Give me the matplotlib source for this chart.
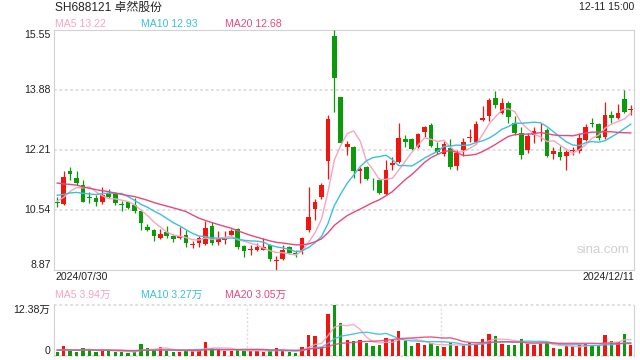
import numpy as np
import pandas as pd
import matplotlib
matplotlib.use('Agg')
import matplotlib.pyplot as plt

plt.rcParams['font.family'] = ['Liberation Sans', 'Noto Sans CJK SC', 'DejaVu Sans']

title = 'SH688121 卓然股份'
stamp = '12-11 15:00'
start_label, end_label = '2024/07/30', '2024/12/11'
price_ticks = [15.55, 13.88, 12.21, 10.54, 8.87]
ma_labels = ['MA5 13.22', 'MA10 12.93', 'MA20 12.68']
vol_ma_labels = ['MA5 3.94万', 'MA10 3.27万', 'MA20 3.05万']
vol_max = 12.38

# daily candles, 2024-07-30 .. 2024-12-11 (90 trading days)
opens = [10.72, 10.68, 11.62, 11.42, 11.23, 10.88, 10.85, 10.76, 11.00, 10.98,
         10.68, 10.74, 10.66, 10.50, 10.06, 9.98, 9.76, 9.92, 9.79, 9.75,
         9.84, 9.55, 9.60, 9.57, 10.08, 9.64, 9.69, 9.83, 9.99, 9.53,
         9.40, 9.40, 9.42, 9.55, 9.12, 9.16, 9.49, 9.33, 9.42, 9.97,
         10.56, 10.88, 11.90, 15.37, 13.67, 12.29, 12.27, 11.62, 11.71, 11.23,
         11.37, 10.98, 11.78, 11.85, 12.51, 12.50, 12.27, 12.71, 12.90, 12.25,
         12.09, 12.25, 11.74, 12.20, 12.54, 12.41, 13.04, 13.13, 13.64, 13.22,
         13.50, 12.96, 12.67, 12.20, 12.62, 12.74, 12.76, 12.09, 12.15, 12.02,
         12.18, 12.16, 12.48, 12.94, 12.92, 12.57, 13.18, 13.10, 13.62, 13.30]
highs = [10.90, 11.60, 11.71, 11.61, 11.37, 11.03, 10.95, 11.18, 11.11, 11.04,
         10.79, 10.79, 10.86, 10.53, 10.13, 10.01, 10.00, 10.07, 9.86, 10.04,
         9.98, 9.67, 9.81, 10.22, 10.18, 9.94, 9.93, 9.99, 10.02, 9.55,
         9.55, 9.60, 9.74, 9.57, 9.25, 9.55, 9.53, 9.42, 9.77, 11.16,
         10.83, 11.29, 13.17, 15.55, 13.67, 12.45, 12.31, 11.72, 11.74, 11.43,
         11.43, 11.92, 12.00, 12.94, 12.62, 12.53, 12.68, 12.87, 12.96, 12.43,
         12.46, 12.50, 12.20, 12.53, 12.78, 12.99, 13.41, 13.64, 13.83, 13.64,
         13.55, 13.15, 12.85, 12.67, 12.85, 12.96, 12.80, 12.29, 12.31, 12.20,
         12.29, 12.68, 12.92, 13.08, 12.96, 13.52, 13.27, 13.48, 13.87, 13.45]
lows = [10.61, 10.66, 11.37, 11.23, 10.74, 10.72, 10.65, 10.70, 10.86, 10.67,
        10.50, 10.55, 10.44, 9.98, 9.93, 9.65, 9.72, 9.74, 9.63, 9.73,
        9.51, 9.46, 9.49, 9.55, 9.55, 9.55, 9.58, 9.81, 9.43, 9.23,
        9.28, 9.38, 9.40, 9.12, 8.87, 9.14, 9.30, 9.23, 9.30, 9.91,
        10.25, 10.83, 11.38, 13.24, 12.38, 12.06, 11.41, 11.29, 11.37, 11.09,
        10.98, 10.95, 11.64, 11.83, 12.29, 12.20, 12.25, 12.57, 12.29, 12.09,
        12.03, 11.66, 11.64, 12.03, 12.43, 12.37, 12.99, 12.99, 13.36, 13.19,
        12.94, 12.62, 11.94, 12.11, 12.39, 12.45, 11.99, 11.94, 11.92, 11.63,
        12.06, 12.11, 12.46, 12.85, 12.48, 12.50, 12.94, 13.06, 13.22, 13.18]
closes = [10.71, 11.44, 11.52, 11.28, 10.76, 10.85, 10.76, 10.95, 10.90, 10.72,
          10.67, 10.57, 10.49, 10.16, 9.96, 9.79, 9.86, 9.79, 9.73, 9.81,
          9.60, 9.57, 9.74, 10.02, 9.60, 9.72, 9.73, 9.94, 9.51, 9.39,
          9.44, 9.49, 9.49, 9.16, 9.14, 9.41, 9.34, 9.31, 9.74, 10.32,
          10.74, 11.23, 13.06, 14.21, 12.40, 12.36, 11.60, 11.67, 11.39, 11.21,
          10.99, 11.63, 11.83, 12.53, 12.43, 12.22, 12.65, 12.85, 12.32, 12.13,
          12.37, 11.72, 12.11, 12.43, 12.57, 12.93, 13.08, 13.59, 13.44, 13.50,
          13.11, 12.67, 12.06, 12.59, 12.73, 12.76, 12.02, 12.18, 11.99, 12.13,
          12.21, 12.53, 12.85, 12.92, 12.53, 13.18, 13.10, 13.22, 13.26, 13.34]
# volume in 万手
volumes = [0.99, 2.39, 1.32, 0.99, 1.90, 1.49, 0.99, 1.40, 1.24, 0.99,
           0.99, 0.74, 0.99, 2.89, 1.90, 1.49, 2.06, 1.24, 0.99, 0.99,
           1.24, 1.40, 1.49, 3.38, 1.90, 1.57, 1.24, 1.24, 1.40, 1.24,
           1.24, 1.24, 0.99, 1.24, 1.90, 1.24, 0.99, 0.74, 2.15, 5.12,
           4.87, 2.06, 10.07, 12.38, 7.92, 3.96, 3.63, 3.96, 3.14, 2.39,
           2.64, 4.37, 3.96, 6.11, 3.71, 2.39, 3.14, 2.64, 3.14, 2.39,
           2.15, 3.22, 2.39, 2.64, 3.22, 2.89, 4.13, 5.36, 4.87, 2.89,
           2.64, 2.64, 4.13, 2.89, 2.64, 3.22, 3.22, 1.90, 1.65, 2.39,
           2.39, 2.64, 2.89, 2.39, 2.39, 4.95, 3.55, 3.35, 5.25, 2.60]
# closes / volumes of the 19 sessions before the window (for the moving averages)
prev_close = [11.90, 11.80, 11.70, 11.75, 11.60, 11.50, 11.55, 11.45, 11.50, 11.40,
              11.20, 11.10, 11.15, 11.00, 11.05, 10.90, 10.70, 10.75, 10.80]
prev_vol = [1.8, 1.6, 1.4, 1.5, 1.3, 1.7, 1.4, 1.2, 1.6, 1.5,
            1.3, 1.4, 1.6, 1.2, 1.5, 1.3, 1.4, 1.6, 1.3]

RED, GREEN = '#f0150f', '#0a9a0a'
MA_COLORS = ['#f7a4c0', '#3cc0dc', '#e8487c']
BORDER, GRID = '#d2d2d2', '#dcdcdc'

n = len(closes)
x = np.arange(n)
o, h, l, c = map(np.array, (opens, highs, lows, closes))
up = c >= o
colors = np.where(up, RED, GREEN)

cs = pd.Series(prev_close + closes)
vs = pd.Series(prev_vol + volumes)
price_ma = [cs.rolling(w).mean().values[-n:] for w in (5, 10, 20)]
vol_ma = [vs.rolling(w).mean().values[-n:] for w in (5, 10, 20)]

W, H = 640, 360
fig = plt.figure(figsize=(6.4, 3.6), dpi=100)
ax = fig.add_axes([54 / W, 1 - 269.5 / H, 580 / W, 240 / H])
axv = fig.add_axes([54 / W, 1 - 356 / H, 580 / W, 51.5 / H])

# price panel
ax.vlines(x, l, h, colors=colors, lw=0.9, zorder=3)
body = np.maximum(np.abs(c - o), 0.025)
ax.bar(x, body, bottom=np.minimum(o, c), width=0.72, color=colors, zorder=3)
for ma, col in zip(price_ma, MA_COLORS):
    ax.plot(x, ma, color=col, lw=1.0, zorder=4)
ax.set_xlim(-0.5, n - 0.5)
ax.set_ylim(price_ticks[-1], price_ticks[0])
for v in price_ticks[1:-1]:
    ax.axhline(v, color=GRID, lw=1.3, ls=(0, (1.5, 1.5)), zorder=1)
tr = ax.get_yaxis_transform()
for v in price_ticks:
    va = 'top' if v == price_ticks[0] else ('bottom' if v == price_ticks[-1] else 'center')
    ax.text(-0.006, v, f'{v:.2f}', transform=tr, ha='right', va=va, fontsize=7.6, color='#222222')
ax.set_xticks([])
ax.set_yticks([])
for s in ax.spines.values():
    s.set_color(BORDER)
ax.text(0.946, 0.083, 'sina.com', transform=ax.transAxes, ha='center', va='center',
        fontsize=9.5, color='#d0d0d0')

# volume panel
axv.bar(x, volumes, width=0.52, color=colors, zorder=3)
for ma, col in zip(vol_ma, MA_COLORS):
    axv.plot(x, ma, color=col, lw=1.0, zorder=4, alpha=0.9)
axv.set_xlim(-0.5, n - 0.5)
axv.set_ylim(0, vol_max)
axv.set_xticks([])
axv.set_yticks([])
for side in ('top', 'bottom'):
    axv.spines[side].set_visible(False)
for side in ('left', 'right'):
    axv.spines[side].set_color(BORDER)
axv.axhline(vol_max, color=GRID, lw=1.3, ls=(0, (1.5, 1.5)), zorder=1, clip_on=False)
axv.axhline(0, color=GRID, lw=1.3, ls=(0, (1.5, 1.5)), zorder=1, clip_on=False)
for fx in (1 / 3, 2 / 3):
    axv.axvline(x=-0.5 + fx * n, color=GRID, lw=1.0, ls=(0, (1.5, 1.5)), zorder=1)
trv = axv.get_yaxis_transform()
axv.text(-0.006, vol_max, f'{vol_max:.2f}万', transform=trv, ha='right', va='top', fontsize=7.6, color='#222222')
axv.text(-0.006, 0, '0', transform=trv, ha='right', va='bottom', fontsize=7.6, color='#222222')

# header texts
fig.text(55 / W, 1 - 8 / H, title, ha='left', va='center', fontsize=8.6, color='#222222')
fig.text(634 / W, 1 - 7.5 / H, stamp, ha='right', va='center', fontsize=7.6, color='#222222')
for xp, lab, col in zip((55, 141, 225), ma_labels, MA_COLORS):
    fig.text(xp / W, 1 - 24 / H, lab, ha='left', va='center', fontsize=7.6, color=col)
for xp, lab, col in zip((55, 141, 225), vol_ma_labels, MA_COLORS):
    fig.text(xp / W, 1 - 295 / H, lab, ha='left', va='center', fontsize=7.6, color=col)
fig.text(55 / W, 1 - 277 / H, start_label, ha='left', va='center', fontsize=7.6, color='#222222')
fig.text(634 / W, 1 - 277 / H, end_label, ha='right', va='center', fontsize=7.6, color='#222222')

fig.savefig('out.png', dpi=100)
